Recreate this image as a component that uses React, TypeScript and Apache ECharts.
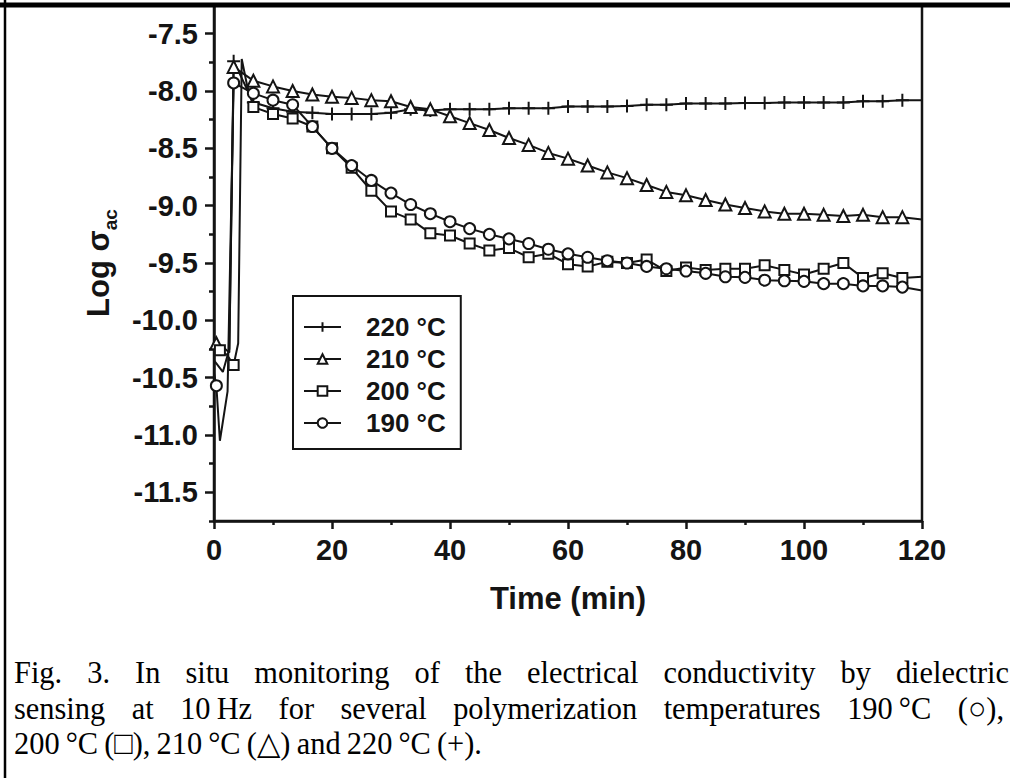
import React, { useEffect, useRef } from 'react';
import * as echarts from 'echarts';

// ---------- data ----------
const SERIES_NAMES = ['220 °C', '210 °C', '200 °C', '190 °C'];

// time (min) of the plotted markers (every 3.33 min)
const markerTimes = [
  3.33, 6.67, 10, 13.33, 16.67, 20, 23.33, 26.67, 30, 33.33, 36.67, 40, 43.33, 46.67, 50,
  53.33, 56.67, 60, 63.33, 66.67, 70, 73.33, 76.67, 80, 83.33, 86.67, 90, 93.33, 96.67,
  100, 103.33, 106.67, 110, 113.33, 116.67,
];

// Log sigma_ac at the marker times
const log220 = [
  -7.74, -8.1, -8.15, -8.18, -8.19, -8.2, -8.2, -8.2, -8.19, -8.16, -8.17, -8.16, -8.16, -8.16,
  -8.15, -8.15, -8.15, -8.135, -8.135, -8.135, -8.13, -8.12, -8.12, -8.11, -8.11, -8.11, -8.105,
  -8.105, -8.1, -8.1, -8.1, -8.1, -8.09, -8.09, -8.08,
];
const log210 = [
  -7.79, -7.91, -7.96, -8.0, -8.03, -8.05, -8.06, -8.08, -8.09, -8.14, -8.16, -8.22, -8.28, -8.34,
  -8.41, -8.47, -8.54, -8.59, -8.65, -8.71, -8.76, -8.82, -8.88, -8.91, -8.95, -8.99, -9.02,
  -9.05, -9.07, -9.07, -9.08, -9.09, -9.08, -9.1, -9.1,
];
const log200 = [
  -10.39, -8.14, -8.2, -8.24, -8.31, -8.5, -8.67, -8.87, -9.05, -9.12, -9.24, -9.26, -9.33, -9.39,
  -9.37, -9.45, -9.42, -9.51, -9.53, -9.49, -9.5, -9.47, -9.57, -9.54, -9.56, -9.55, -9.55, -9.52,
  -9.56, -9.6, -9.55, -9.5, -9.63, -9.59, -9.63,
];
const log190 = [
  -7.93, -8.02, -8.08, -8.12, -8.31, -8.5, -8.65, -8.78, -8.89, -8.99, -9.07, -9.14, -9.2, -9.25,
  -9.29, -9.33, -9.38, -9.42, -9.45, -9.48, -9.5, -9.53, -9.55, -9.57, -9.59, -9.62, -9.625,
  -9.65, -9.655, -9.66, -9.68, -9.68, -9.7, -9.7, -9.71,
];

// extra points of the trace (onset spike and end of run), drawn without a marker: [time, value]
const trace220: [number, number][] = [[0, -10.35], [1.5, -10.45], [2.6, -10.25], [120, -8.08]];
const trace210: [number, number][] = [[0, -10.15], [1.2, -10.22], [2.6, -10.28], [120, -9.12]];
const trace200: [number, number][] = [[0, -10.3], [2.2, -10.3], [4.1, -10.2], [4.7, -7.72], [5.6, -7.95], [120, -9.62]];
const trace190: [number, number][] = [[0, -10.46], [1.0, -11.05], [2.3, -10.62], [120, -9.74]];

// first marker of the onset: [time, value]
const onsetMark210: [number, number][] = [[0.4, -10.2]];
const onsetMark200: [number, number][] = [[1.0, -10.26]];
const onsetMark190: [number, number][] = [[0.4, -10.57]];
const onsetMark220: [number, number][] = [];

const yTickValues = [-11.5, -11.0, -10.5, -10.0, -9.5, -9.0, -8.5, -8.0, -7.5];

const CAPTION = [
  'Fig. 3. In situ monitoring of the electrical conductivity by dielectric',
  'sensing at 10\u2009Hz for several polymerization temperatures 190\u2009°C (○),',
  '200\u2009°C (□), 210\u2009°C (△) and 220\u2009°C (+).',
];

// ---------- styling ----------
const INK = '#141414';
const SANS = '"Liberation Sans", Arial, sans-serif';
const SERIF = '"Liberation Serif", "Times New Roman", serif';
const CAP_SIZE = 32;
const CAP_SQUEEZE = 0.95;

function buildData(values: number[], onset: [number, number][], trace: [number, number][]) {
  const marks = markerTimes.map((t, i) => ({ value: [t, values[i]] }));
  const first = onset.map((p) => ({ value: p }));
  const plain = trace.map((p) => ({ value: p, symbol: 'none' }));
  return [...first, ...marks, ...plain].sort((a, b) => a.value[0] - b.value[0]);
}

function captionGraphics() {
  const ctx = document.createElement('canvas').getContext('2d')!;
  ctx.font = `${CAP_SIZE}px ${SERIF}`;
  const left = 14;
  const targets = [1009, 1004, null];
  const ys = [672, 708, 743];
  const els: any[] = [];
  CAPTION.forEach((line, li) => {
    const words = line.split(' ');
    const widths = words.map((w) => ctx.measureText(w).width * CAP_SQUEEZE);
    const total = widths.reduce((a, b) => a + b, 0);
    const target = targets[li];
    const gap =
      target == null ? ctx.measureText(' ').width * CAP_SQUEEZE * 0.8 : (target - left - total) / (words.length - 1);
    let x = left;
    words.forEach((w, wi) => {
      els.push({
        type: 'text',
        x,
        y: ys[li],
        scaleX: CAP_SQUEEZE,
        style: { text: w, fill: '#000', font: `${CAP_SIZE}px ${SERIF}`, verticalAlign: 'middle', align: 'left' },
      });
      x += widths[wi] + gap;
    });
  });
  return els;
}

export default function App() {
  const ref = useRef<HTMLDivElement>(null);
  useEffect(() => {
    if (!ref.current) return;
    const chart = echarts.init(ref.current, null, { renderer: 'svg' });

    const common = {
      type: 'line',
      symbolSize: 10,
      lineStyle: { color: INK, width: 2 },
      itemStyle: { color: '#fff', borderColor: INK, borderWidth: 2 },
      emphasis: { disabled: true },
      clip: true,
      z: 3,
    };

    const option: any = {
      animation: false,
      backgroundColor: '#fff',
      grid: { left: 214, right: 88, top: 5, bottom: 257, show: true, borderColor: INK, borderWidth: 2.5, backgroundColor: 'transparent' },
      xAxis: {
        type: 'value',
        min: 0,
        max: 120,
        interval: 20,
        name: 'Time (min)',
        nameLocation: 'middle',
        nameGap: 62,
        nameTextStyle: { fontSize: 31, fontWeight: 'bold', fontFamily: SANS, color: INK },
        axisLine: { lineStyle: { color: INK, width: 2.5 } },
        axisTick: { length: 8, lineStyle: { color: INK, width: 2.5 } },
        minorTick: { show: true, splitNumber: 2, length: 4, lineStyle: { color: INK, width: 2.5 } },
        axisLabel: { fontSize: 29, margin: 14, color: INK, fontFamily: SANS, fontWeight: 'bold' },
        splitLine: { show: false },
      },
      yAxis: [
        {
          type: 'value',
          min: -11.75,
          max: -7.25,
          position: 'left',
          name: '{a|Log σ}{b|ac}',
          nameLocation: 'middle',
          nameRotate: 90,
          nameGap: 100,
          nameTextStyle: {
            rich: {
              a: { fontSize: 31, fontWeight: 'bold', fontFamily: SANS, color: INK, lineHeight: 31, verticalAlign: 'top' },
              b: { fontSize: 19, fontWeight: 'bold', fontFamily: SANS, color: INK, lineHeight: 19, verticalAlign: 'top', padding: [18, 0, 0, 0] },
            },
          },
          axisLine: { show: true, lineStyle: { color: INK, width: 2.5 } },
          axisTick: { show: true, length: 9, customValues: yTickValues, lineStyle: { color: INK, width: 2.5 } },
          axisLabel: {
            show: true,
            customValues: yTickValues,
            fontSize: 29,
            margin: 16,
            color: INK,
            fontFamily: SANS,
            fontWeight: 'bold',
            formatter: (v: number) => v.toFixed(1),
          },
          splitLine: { show: false },
        },
        {
          type: 'value',
          min: -11.75,
          max: -7.25,
          interval: 0.5,
          position: 'left',
          axisLine: { show: false },
          axisTick: { show: true, length: 5, lineStyle: { color: INK, width: 2.5 } },
          axisLabel: { show: false },
          splitLine: { show: false },
        },
      ],
      legend: {
        orient: 'vertical',
        left: 293,
        top: 296,
        padding: [18, 15, 13, 10],
        itemGap: 6,
        itemWidth: 37,
        itemHeight: 12,
        borderColor: INK,
        borderWidth: 2,
        backgroundColor: '#fff',
        selectedMode: false,
        textStyle: { fontSize: 26, fontWeight: 'bold', fontFamily: SANS, color: INK, lineHeight: 26, padding: [0, 0, 0, 20] },
        data: SERIES_NAMES,
      },
      series: [
        { ...common, name: SERIES_NAMES[0], symbol: 'path://M6,0L6,12M0,6L12,6', symbolSize: 13, data: buildData(log220, onsetMark220, trace220) },
        { ...common, name: SERIES_NAMES[1], symbol: 'triangle', symbolSize: 12, data: buildData(log210, onsetMark210, trace210) },
        { ...common, name: SERIES_NAMES[2], symbol: 'rect', symbolSize: 10, data: buildData(log200, onsetMark200, trace200) },
        { ...common, name: SERIES_NAMES[3], symbol: 'circle', symbolSize: 11, data: buildData(log190, onsetMark190, trace190) },
      ],
      graphic: [
        { type: 'line', shape: { x1: 0, y1: 5, x2: 1010, y2: 5 }, style: { stroke: '#000', lineWidth: 5 }, z: 100 },
        { type: 'line', shape: { x1: 5, y1: 0, x2: 5, y2: 778 }, style: { stroke: '#000', lineWidth: 2.5 }, z: 100 },
        ...captionGraphics(),
      ],
    };
    chart.setOption(option);
    return () => chart.dispose();
  }, []);
  return <div ref={ref} style={{ position: 'fixed', left: 0, top: 0, width: 1010, height: 778, background: '#fff' }} />;
}
